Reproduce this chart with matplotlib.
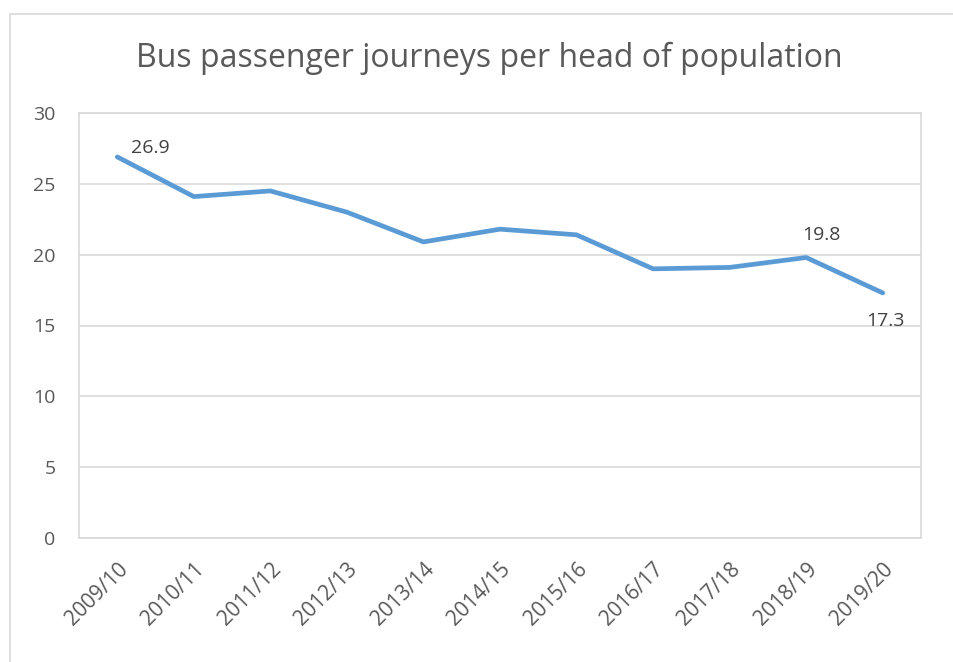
import matplotlib.pyplot as plt
import matplotlib.patches as patches
import numpy as np

years = ['2009/10', '2010/11', '2011/12', '2012/13', '2013/14', '2014/15',
         '2015/16', '2016/17', '2017/18', '2018/19', '2019/20']
journeys = [26.9, 24.1, 24.5, 23.0, 20.9, 21.8, 21.4, 19.0, 19.1, 19.8, 17.3]
y_ticks = [0, 5, 10, 15, 20, 25, 30]

# which points get a value label, and where (pixel offsets)
labelled = {0: (33, 9), 9: (15, 23), 10: (3, -28)}

plt.rcParams['font.family'] = ['Open Sans', 'DejaVu Sans']
text_col = '#595959'
grid_col = '#d9d9d9'

fig = plt.figure(figsize=(9.54, 6.62), dpi=100)
ax = fig.add_axes([79 / 954, 124 / 662, 842 / 954, 425 / 662])

# outer chart border (cropped on right and bottom)
fig.patches.append(patches.Rectangle((10 / 954, -0.05), 1.0, 1 - 14 / 662 + 0.05,
                                     transform=fig.transFigure, fill=False,
                                     edgecolor=grid_col, linewidth=1.2))

x = np.arange(len(years))
ax.plot(x, journeys, color='#5b9bd5', linewidth=3.4, solid_capstyle='round',
        solid_joinstyle='round', zorder=3)

for i, (dx, dy) in labelled.items():
    ax.annotate('{}'.format(journeys[i]), xy=(x[i], journeys[i]),
                xytext=(dx * 0.72, dy * 0.72), textcoords='offset points',
                ha='center', va='center', fontsize=14, color='#404040')

ax.set_xlim(-0.5, len(years) - 0.5)
ax.set_ylim(0, 30)
ax.set_yticks(y_ticks)
ax.yaxis.grid(True, color=grid_col, linewidth=1.2)
ax.set_axisbelow(True)
ax.set_xticks(x)
ax.set_xticklabels(years, rotation=45, ha='right', rotation_mode='anchor')
ax.tick_params(axis='both', length=0, labelsize=14, labelcolor=text_col)
ax.tick_params(axis='x', pad=15, labelsize=15)
ax.tick_params(axis='y', pad=17)
for s in ax.spines.values():
    s.set_color(grid_col)
    s.set_linewidth(1.2)

fig.text(489 / 954, 1 - 58 / 662, 'Bus passenger journeys per head of population',
         ha='center', va='center', fontsize=23, color=text_col)

fig.savefig('out.png', dpi=100)
